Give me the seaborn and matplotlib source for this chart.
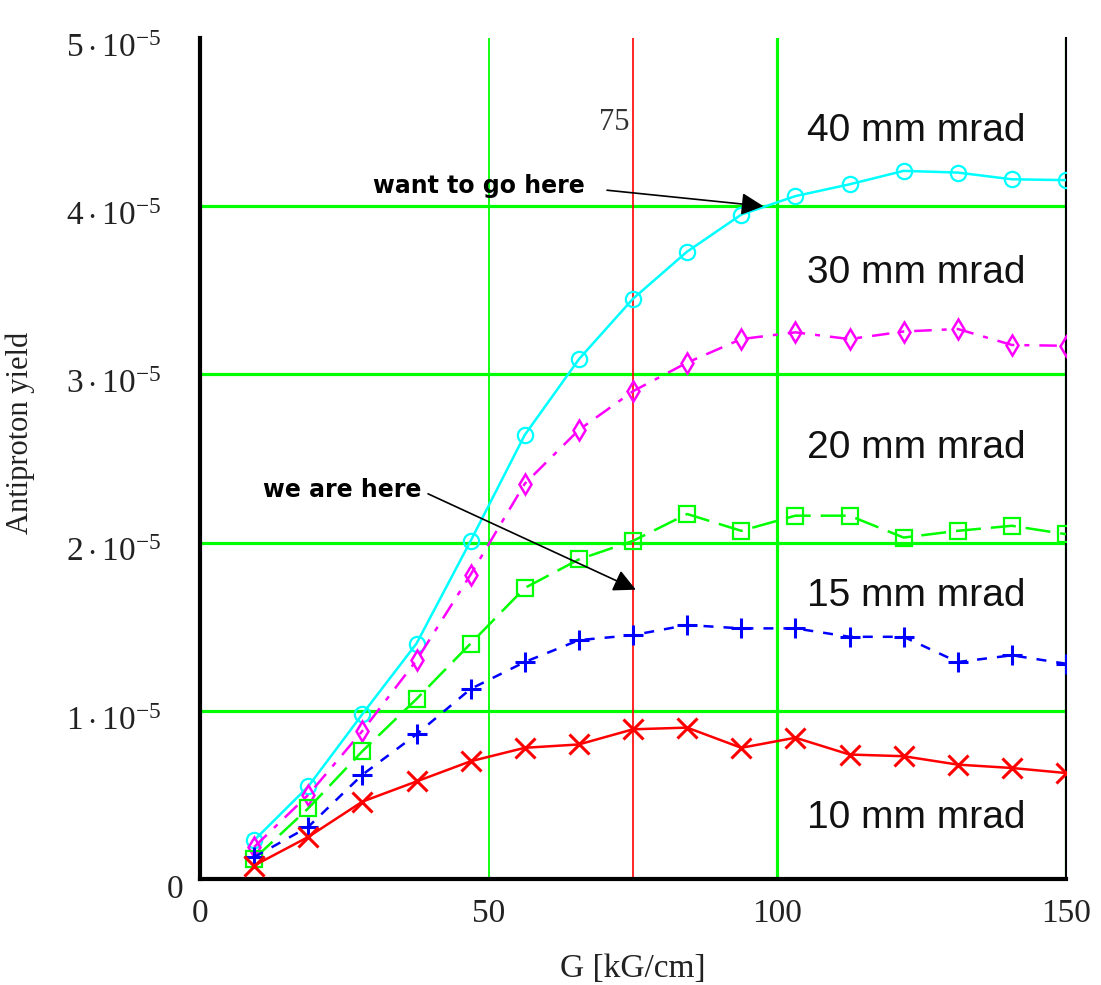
import numpy as np
import pandas as pd
import matplotlib
matplotlib.use("Agg")
import matplotlib.pyplot as plt
import matplotlib.transforms as mtransforms
import seaborn as sns

# ---------------- data ----------------
G = [9.375, 18.75, 28.125, 37.5, 46.875, 56.25, 65.625, 75.0,
     84.375, 93.75, 103.125, 112.5, 121.875, 131.25, 140.625, 150.0]

yield_40 = [0.23, 0.55, 0.98, 1.40, 2.01, 2.64, 3.09, 3.45,
            3.73, 3.95, 4.06, 4.13, 4.21, 4.20, 4.16, 4.155]
yield_30 = [0.19, 0.50, 0.88, 1.30, 1.81, 2.35, 2.67, 2.90,
            3.07, 3.21, 3.25, 3.21, 3.255, 3.27, 3.175, 3.17]
yield_20 = [0.12, 0.42, 0.76, 1.07, 1.40, 1.73, 1.90, 2.01,
            2.17, 2.07, 2.16, 2.16, 2.03, 2.07, 2.10, 2.05]
yield_15 = [0.13, 0.31, 0.62, 0.86, 1.13, 1.29, 1.42, 1.45,
            1.51, 1.49, 1.49, 1.44, 1.44, 1.29, 1.33, 1.28]
yield_10 = [0.08, 0.25, 0.46, 0.58, 0.70, 0.78, 0.80, 0.89,
            0.90, 0.78, 0.84, 0.74, 0.73, 0.68, 0.66, 0.63]
SCALE = 1e-5

series_labels = ["40 mm mrad", "30 mm mrad", "20 mm mrad", "15 mm mrad", "10 mm mrad"]
label_pos_x = [124, 124, 124, 124, 124]
label_pos_y = [4.45, 3.60, 2.56, 1.68, 0.36]

x_ticks = [0, 50, 100, 150]
x_ticklabels = ["0", "50", "100", "150"]
y_ticks = [0, 1, 2, 3, 4, 5]
y_ticklabels = ["0", r"$1\cdot10^{-5}$", r"$2\cdot10^{-5}$", r"$3\cdot10^{-5}$",
                r"$4\cdot10^{-5}$", r"$5\cdot10^{-5}$"]
grid_x = [50, 100, 150]
grid_y = [1, 2, 3, 4]
marker_line = 75

# ---------------- style ----------------
sns.set_theme(style="white")
plt.rcParams["font.family"] = ["Liberation Serif", "DejaVu Serif"]
plt.rcParams["mathtext.fontset"] = "custom"
plt.rcParams["mathtext.rm"] = "Liberation Serif"
plt.rcParams["mathtext.it"] = "Liberation Serif:italic"
plt.rcParams["mathtext.bf"] = "Liberation Serif:bold"

fig = plt.figure(figsize=(11.01, 9.85), dpi=100)
ax = fig.add_axes([200 / 1101, 1 - 879 / 985, 866 / 1101, 841 / 985])

GREEN = "#00FF00"
# grid lines
for gx in grid_x:
    ax.axvline(gx, color=GREEN, lw=1.3 if gx == 50 else 2.3, zorder=1)
for gy in grid_y:
    ax.axhline(gy * SCALE, color=GREEN, lw=2.3, zorder=1)
ax.axvline(marker_line, color="#FF0000", lw=1.2, zorder=1)

df = pd.DataFrame({"G": G,
                   "y40": np.array(yield_40) * SCALE,
                   "y30": np.array(yield_30) * SCALE,
                   "y20": np.array(yield_20) * SCALE,
                   "y15": np.array(yield_15) * SCALE,
                   "y10": np.array(yield_10) * SCALE})

specs = [
    ("y40", "#00FFFF", "o", (0, ()), 11, 1.6),
    ("y30", "#FF00FF", "d", (0, (7, 4, 2, 4)), 10, 1.8),
    ("y20", GREEN, "s", (0, (10, 4)), 12, 1.6),
    ("y15", "#0000FF", "+", (0, (4, 4)), 15, 2.2),
    ("y10", "#FF0000", "x", (0, ()), 14, 2.2),
]
for col, c, m, ls, ms, mew in specs:
    sns.lineplot(data=df, x="G", y=col, ax=ax, color=c, marker=m,
                 linestyle=ls, lw=1.8, markersize=ms,
                 markerfacecolor="none", markeredgecolor=c,
                 markeredgewidth=mew, zorder=3, legend=False)

ax.set_xlim(0, 150)
ax.set_ylim(0, 5 * SCALE)
ax.set_xticks(x_ticks)
ax.set_xticklabels(x_ticklabels)
ax.set_yticks([t * SCALE for t in y_ticks])
ax.set_yticklabels(y_ticklabels)
ax.tick_params(axis="both", length=0, labelsize=24, colors="#222222")
ax.tick_params(axis="x", pad=14)
ax.tick_params(axis="y", pad=28)

# shift y tick labels slightly downward, "0" label further right
for lab in ax.get_yticklabels():
    dx = 0
    if lab.get_text() == "0":
        dx = 22 / 100
    lab.set_transform(lab.get_transform() +
                      mtransforms.ScaledTranslation(dx, -7 / 100, fig.dpi_scale_trans))

ax.set_xlabel("G [kG/cm]", fontsize=24, color="#222222", labelpad=18)
ax.set_ylabel("Antiproton yield", fontsize=22, color="#222222")
ax.yaxis.set_label_coords(-0.19, 0.53)

for side in ["left", "bottom", "right"]:
    ax.spines[side].set_visible(True)
    ax.spines[side].set_color("black")
ax.spines["left"].set_linewidth(3)
ax.spines["bottom"].set_linewidth(3)
ax.spines["right"].set_linewidth(1.5)
ax.spines["top"].set_visible(False)

# series labels
for txt, lx, ly in zip(series_labels, label_pos_x, label_pos_y):
    ax.text(lx, ly * SCALE, txt, fontsize=28, family=["Liberation Sans", "DejaVu Sans"],
            ha="center", va="center", color="#111111", zorder=4)

ax.text(71.7, 4.50 * SCALE, "75", fontsize=22, ha="center", va="center",
        color="#333333", zorder=4)

# annotations
ax.text(30.0, 4.12 * SCALE, "want to go here", fontsize=17, fontweight="bold",
        family=["DejaVu Sans"], ha="left", va="center", color="black", zorder=5)
ax.annotate("", xy=(97.6, 4.0 * SCALE), xytext=(70.5, 4.095 * SCALE),
            arrowprops=dict(arrowstyle="-|>", color="black", lw=1.2,
                            mutation_scale=34, shrinkA=0, shrinkB=0), zorder=5)
ax.text(10.9, 2.31 * SCALE, "we are here", fontsize=17, fontweight="bold",
        family=["DejaVu Sans"], ha="left", va="center", color="black", zorder=5)
ax.annotate("", xy=(75.5, 1.72 * SCALE), xytext=(39.5, 2.29 * SCALE),
            arrowprops=dict(arrowstyle="-|>", color="black", lw=1.2,
                            mutation_scale=34, shrinkA=0, shrinkB=0), zorder=5)

fig.savefig("out.png", dpi=100, facecolor="white")
